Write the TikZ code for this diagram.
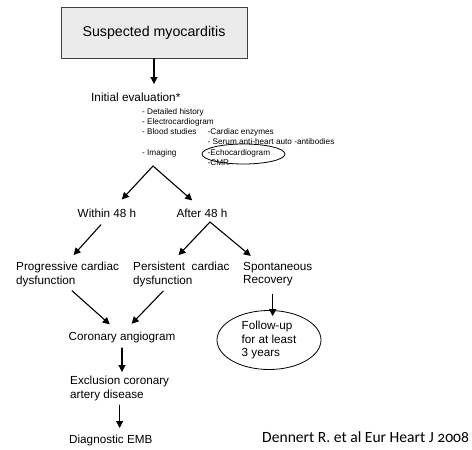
\documentclass[tikz,border=0pt]{standalone}
\usepackage{fontspec}
\setmainfont{Liberation Sans}
\newfontfamily\citefont[Numbers=OldStyle]{Carlito}
\usetikzlibrary{positioning, arrows.meta, shapes.geometric}
\newcommand\evalitem[1]{\makebox[65.5pt][l]{#1}}

\begin{document}
\begin{tikzpicture}
    [x=1pt, y=-1pt,
     every node/.style={inner sep=0pt, align=left, font=\fontsize{11.7}{13.8}\selectfont},
     arr/.style={draw=black, line width=1.1pt, line cap=round, -{Triangle[length=7pt, width=7pt]}},
     ring/.style={draw, ellipse, line width=0.8pt},
    ]
    \useasboundingbox (0,0) rectangle (472,450);

    \node (susp) [draw=black!75, fill=black!8, line width=0.9pt, align=center,
        minimum width=186pt, minimum height=51pt,
        font=\fontsize{14.2}{16}\selectfont] at (154,32.5) {Suspected myocarditis};
    \coordinate (evaltop) at (154,84);
    \node (init) [anchor=north west, font=\fontsize{11.8}{14}\selectfont] at (91,93) {Initial evaluation*};
    \node (evallist) [anchor=north west, font=\fontsize{8.2}{10.2}\selectfont] at (142,106.9) {%
        \begin{tabular}{@{}l@{}l@{}}
        \evalitem{- Detailed history} & \\
        \evalitem{- Electrocardiogram} & \\
        \evalitem{- Blood studies} & -Cardiac enzymes \\
        \evalitem{} & - Serum anti-heart auto -antibodies \\
        \evalitem{- Imaging} & -Echocardiogram \\
        \evalitem{} & -CMR
        \end{tabular}};
    \node (echoring) [ring, minimum width=83pt, minimum height=20pt] at (243.5,154) {};

    \coordinate (split) at (153,166);
    \node (within) [anchor=north] at (107,209) {Within 48 h};
    \node (after) [anchor=north] at (202,209) {After 48 h};
    \coordinate (aftersplit) at (210,222);

    \node (prog) [anchor=north west] at (16,261.7) {Progressive cardiac\\dysfunction};
    \node (persist) [anchor=north west] at (133,261.7) {Persistent\ \ cardiac\\dysfunction};
    \node (spont) [anchor=north west] at (243,261.7) {Spontaneous\\Recovery};

    \node (coro) [anchor=north] at (122,331.7) {Coronary angiogram};
    \node (excl) [anchor=north west] at (70,376) {Exclusion coronary\\artery disease};
    \node (diag) [anchor=north west] at (69,435) {Diagnostic EMB};
    \node (follow) [ring, minimum width=104pt, minimum height=59pt] at (269,340) {Follow-up\\for at least\\3 years};

    \node (cite) [anchor=north west, font=\citefont\fontsize{15.6}{18}\selectfont] at (262,431.7) {Dennert R. et al Eur Heart J 2008};

    \draw [arr] (susp.south) -- (evaltop);
    \draw [arr, shorten >=13pt] (split) -- ([xshift=6pt]within.north);
    \draw [arr, shorten >=13pt] (split) -- (after.north);
    \draw [arr, shorten <=9pt, shorten >=9pt] (within.south) -- (prog.north);
    \draw [arr, shorten >=9pt] (aftersplit) -- ([xshift=-9pt]persist.north);
    \draw [arr, shorten >=9pt] (aftersplit) -- ([xshift=-20pt]spont.north);
    \draw [arr, shorten <=6pt, shorten >=11pt] (prog.south) -- ([xshift=-4pt]coro.north);
    \draw [arr, shorten <=6pt, shorten >=11pt] ([xshift=-14pt]persist.south) -- ([xshift=2pt]coro.north);
    \draw [arr, shorten <=5pt, shorten >=4pt] (coro.south) -- (coro.south |- excl.north);
    \draw [arr, shorten <=4pt, shorten >=7pt] (excl.south) -- (excl.south |- diag.north);
    \draw [arr, shorten <=8pt, shorten >=-6pt] ([xshift=-5pt]spont.south) -- ([xshift=-5pt]spont.south |- follow.north);
\end{tikzpicture}
\end{document}
